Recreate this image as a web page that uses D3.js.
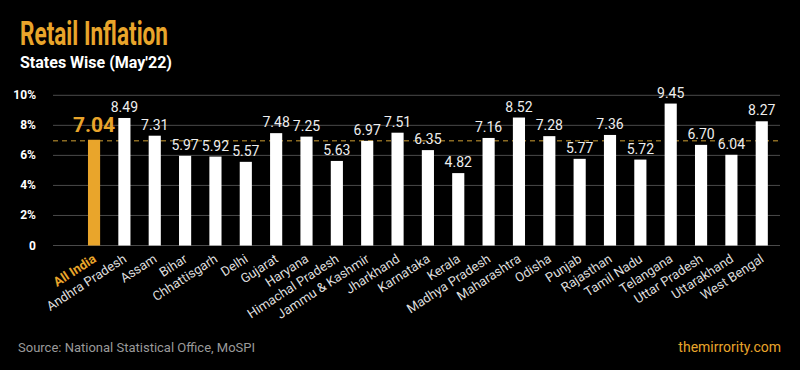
<!DOCTYPE html>
<html>
<head>
<meta charset="utf-8">
<script src="https://cdn.jsdelivr.net/npm/d3@7"></script>
<style>
  body{margin:0;background:#000;}
  svg{display:block;font-family:Roboto,"Noto Sans",sans-serif;}
</style>
</head>
<body>
<div class="chart"></div>
<script>
// data
const states = ["All India","Andhra Pradesh","Assam","Bihar","Chhattisgarh","Delhi","Gujarat","Haryana","Himachal Pradesh","Jammu & Kashmir","Jharkhand","Karnataka","Kerala","Madhya Pradesh","Maharashtra","Odisha","Punjab","Rajasthan","Tamil Nadu","Telangana","Uttar Pradesh","Uttarakhand","West Bengal"];
const inflation = [7.04,8.49,7.31,5.97,5.92,5.57,7.48,7.25,5.63,6.97,7.51,6.35,4.82,7.16,8.52,7.28,5.77,7.36,5.72,9.45,6.70,6.04,8.27];
const yTicks = [0,2,4,6,8,10];
const allIndia = 7.04;

const orange = "#e9a52b";
const width = 800, height = 370;

const svg = d3.select(".chart").append("svg").attr("width",width).attr("height",height);
svg.append("rect").attr("width",width).attr("height",height).attr("fill","#000");

const data = states.map((s,i)=>({state:s,value:inflation[i]}));

const x = d3.scaleBand().domain(states).range([72.8,783]).paddingInner(0.6).paddingOuter(0.5);
const y = d3.scaleLinear().domain([0,10]).range([245.5,95.3]);

// grid
svg.append("g").selectAll("line")
    .data(yTicks)
    .join("line")
    .attr("x1",53).attr("x2",780)
    .attr("y1",d=>y(d)).attr("y2",d=>y(d))
    .attr("stroke","#4a4a4a").attr("stroke-width",1);

svg.append("g").selectAll("text")
    .data(yTicks)
    .join("text")
    .attr("x",36).attr("y",d=>y(d)+4)
    .attr("text-anchor","end")
    .attr("fill","#fff").attr("font-weight","bold").attr("font-size",12)
    .text(d=>d===0?"0":d+"%");

// all india reference line
svg.append("line")
    .attr("x1",53).attr("x2",780)
    .attr("y1",y(allIndia)+1).attr("y2",y(allIndia)+1)
    .attr("stroke","#8a6a22").attr("stroke-width",1.5)
    .attr("stroke-dasharray","5,4");

// bars
svg.append("g").selectAll("rect")
    .data(data)
    .join("rect")
    .attr("x",d=>x(d.state))
    .attr("width",x.bandwidth())
    .attr("y",d=>y(d.value))
    .attr("height",d=>y(0)-y(d.value))
    .attr("fill",(d,i)=>i===0?orange:"#fff");

// value labels
svg.append("g").selectAll("text")
    .data(data)
    .join("text")
    .attr("x",d=>x(d.state)+x.bandwidth()/2)
    .attr("y",(d,i)=>i===0?y(d.value)-8:y(d.value)-6)
    .attr("text-anchor","middle")
    .attr("fill",(d,i)=>i===0?orange:"#eee")
    .attr("font-size",(d,i)=>i===0?21:14)
    .attr("font-weight",(d,i)=>i===0?"bold":"normal")
    .text(d=>d.value.toFixed(2));

// x labels
svg.append("g").selectAll("text")
    .data(data)
    .join("text")
    .attr("transform",d=>`translate(${x(d.state)+x.bandwidth()/2+3},${261}) rotate(-33)`)
    .attr("text-anchor","end")
    .attr("fill",(d,i)=>i===0?orange:"#ddd")
    .attr("font-size",13)
    .attr("font-weight",(d,i)=>i===0?"bold":"normal")
    .text(d=>d.state);

// titles
svg.append("text")
    .attr("x",20).attr("y",45)
    .attr("fill",orange).attr("font-weight","bold").attr("font-size",34)
    .attr("textLength",148).attr("lengthAdjust","spacingAndGlyphs")
    .text("Retail Inflation");
svg.append("text")
    .attr("x",20).attr("y",68)
    .attr("fill","#fff").attr("font-weight","bold").attr("font-size",16)
    .text("States Wise (May'22)");

svg.append("text")
    .attr("x",18).attr("y",352)
    .attr("fill","#9a9a9a").attr("font-size",13)
    .text("Source: National Statistical Office, MoSPI");
svg.append("text")
    .attr("x",781).attr("y",352)
    .attr("text-anchor","end")
    .attr("fill",orange).attr("font-size",14)
    .text("themirrority.com");
</script>
</body>
</html>
